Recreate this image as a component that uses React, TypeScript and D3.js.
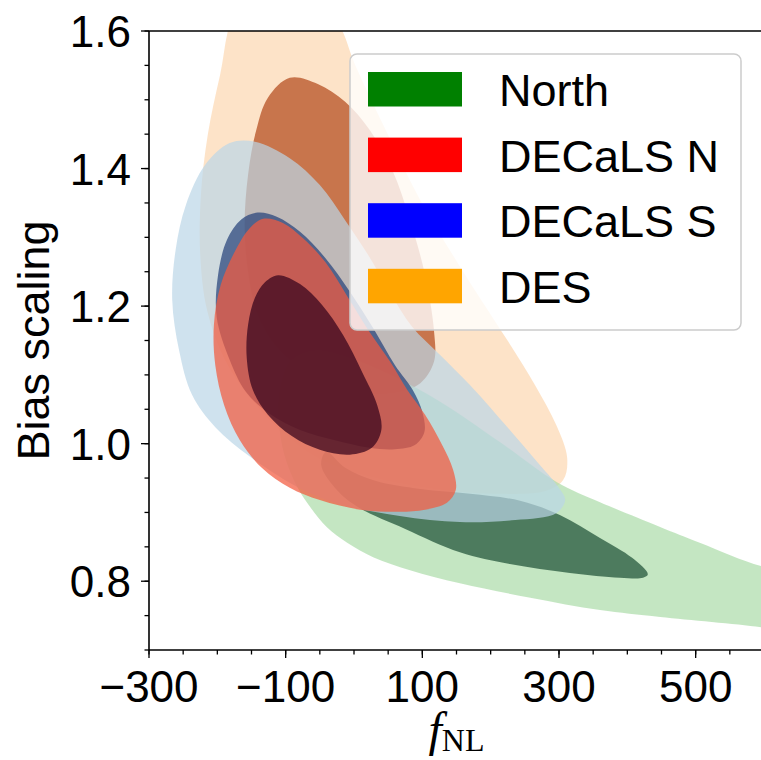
import React from 'react';
import * as d3 from 'd3';

// axis ticks
const xTicks = [-300, -100, 100, 300, 500];
const yTicks = [0.8, 1.0, 1.2, 1.4, 1.6];

// contour outlines, [fNL, bias]
const desOuter: [number, number][] = [
  [-173, 1.63], [-105, 1.69], [-26, 1.616], [2, 1.55], [45, 1.459], [97, 1.354],
  [163, 1.245], [224, 1.151], [265, 1.085], [296, 1.027], [312, 0.979], [306, 0.947],
  [280, 0.931], [214, 0.927], [126, 0.933], [31, 0.95], [-47, 0.976], [-101, 1.013],
  [-149, 1.063], [-189, 1.122], [-215, 1.194], [-225, 1.274], [-224, 1.362],
  [-214, 1.449], [-196, 1.536],
];
const desInner: [number, number][] = [
  [-94, 1.532], [-53, 1.523], [-13, 1.497], [23, 1.456], [56, 1.398], [82, 1.325],
  [104, 1.245], [117, 1.165], [117, 1.119], [97, 1.088], [60, 1.074], [12, 1.074],
  [-38, 1.088], [-82, 1.113], [-117, 1.146], [-142, 1.191], [-155, 1.25],
  [-160, 1.318], [-155, 1.391], [-143, 1.456], [-126, 1.503],
];
const northOuter: [number, number][] = [
  [653, 0.813], [653, 0.723], [596, 0.733], [448, 0.748], [360, 0.758], [258, 0.776],
  [155, 0.797], [82, 0.816], [28, 0.835], [-10, 0.856], [-40, 0.879], [-62, 0.905],
  [-83, 0.937], [-102, 0.984], [-110, 1.034], [-107, 1.085], [-91, 1.122], [-57, 1.136],
  [-6, 1.125], [60, 1.097], [126, 1.061], [214, 1.002], [297, 0.944], [360, 0.915],
  [448, 0.879], [506, 0.856], [596, 0.822],
];
const northInner: [number, number][] = [
  [430, 0.81], [407, 0.834], [360, 0.863], [302, 0.896], [243, 0.917], [170, 0.927],
  [97, 0.934], [31, 0.946], [-13, 0.965], [-41, 0.988], [-48, 0.969], [-28, 0.936],
  [4, 0.909], [75, 0.876], [155, 0.842], [228, 0.825], [316, 0.812], [389, 0.805],
  [423, 0.805],
];
const decalsSOuter: [number, number][] = [
  [-266, 1.209], [-261, 1.282], [-246, 1.347], [-218, 1.405], [-182, 1.437],
  [-145, 1.439], [-94, 1.415], [-50, 1.376], [-13, 1.325], [21, 1.274], [53, 1.219],
  [85, 1.17], [126, 1.129], [170, 1.085], [228, 1.02], [272, 0.969], [299, 0.937],
  [309, 0.918], [296, 0.899], [236, 0.889], [155, 0.886], [67, 0.895], [-21, 0.912],
  [-83, 0.937], [-152, 0.981], [-203, 1.024], [-237, 1.071], [-256, 1.136],
];
const decalsSInner: [number, number][] = [
  [-201, 1.184], [-199, 1.245], [-186, 1.296], [-165, 1.326], [-141, 1.336],
  [-113, 1.33], [-79, 1.308], [-42, 1.27], [-6, 1.221], [28, 1.168], [60, 1.114],
  [86, 1.078], [100, 1.046], [103, 1.017], [89, 0.998], [60, 0.992], [23, 0.994],
  [-28, 1.005], [-79, 1.02], [-123, 1.043], [-158, 1.075], [-182, 1.122],
];
const decalsNOuter: [number, number][] = [
  [-133, 1.327], [-104, 1.321], [-75, 1.299], [-42, 1.264], [-9, 1.213], [23, 1.162],
  [53, 1.119], [78, 1.078], [104, 1.042], [129, 0.998], [145, 0.962], [149, 0.933],
  [136, 0.914], [104, 0.904], [67, 0.901], [9, 0.904], [-50, 0.918], [-94, 0.936],
  [-135, 0.965], [-167, 1.005], [-190, 1.056], [-203, 1.114], [-205, 1.173],
  [-195, 1.231], [-173, 1.282], [-152, 1.314],
];
const decalsNInner: [number, number][] = [
  [-111, 1.245], [-79, 1.232], [-47, 1.202], [-16, 1.158], [12, 1.104], [34, 1.056],
  [40, 1.02], [26, 0.994], [-6, 0.984], [-50, 0.991], [-91, 1.011], [-126, 1.042],
  [-148, 1.078], [-157, 1.125], [-155, 1.173], [-145, 1.212], [-130, 1.235],
];

const legendNames = ['North', 'DECaLS N', 'DECaLS S', 'DES'];
const legendColors = ['green', 'red', 'blue', 'orange'];

// drawing order: DES, North, DECaLS S, DECaLS N
const layers = [
  { pts: desOuter, fill: '#fcd7b0', op: 0.7 },
  { pts: desInner, fill: '#b14617', op: 0.7 },
  { pts: northOuter, fill: '#abdba8', op: 0.7 },
  { pts: northInner, fill: '#1b4d33', op: 0.7 },
  { pts: decalsSOuter, fill: '#bbd5e7', op: 0.7 },
  { pts: decalsSInner, fill: '#223f78', op: 0.7 },
  { pts: decalsNOuter, fill: '#f35a3f', op: 0.72 },
  { pts: decalsNInner, fill: '#310019', op: 0.7 },
];

const X0 = 149, X1 = 764, Y0 = 31, Y1 = 650;
const sans = '"Liberation Sans", Arial, Helvetica, sans-serif';
const serif = '"Liberation Serif", "DejaVu Serif", serif';

export default function App() {
  const x = d3.scaleLinear().domain([-300, 600]).range([X0, X1]);
  const y = d3.scaleLinear().domain([0.7, 1.6]).range([Y1, Y0]);
  const line = d3.line<[number, number]>()
    .x(d => x(d[0]))
    .y(d => y(d[1]))
    .curve(d3.curveCatmullRomClosed.alpha(0.5));

  const xMinor = d3.range(-300, 601, 50);
  const yMinor = d3.range(0, 19).map(i => 0.7 + i * 0.05);
  const fmtX = (v: number) => (v < 0 ? `\u2212${Math.abs(v)}` : `${v}`);

  return (
    <svg width={761} height={760} style={{ display: 'block', position: 'absolute', left: 0, top: 0 }}>
      <rect width={761} height={760} fill="white" />
      <defs>
        <clipPath id="plot">
          <rect x={X0} y={Y0} width={X1 - X0} height={Y1 - Y0} />
        </clipPath>
      </defs>
      <g clipPath="url(#plot)">
        {layers.map((l, i) => (
          <path key={i} d={line(l.pts) || ''} fill={l.fill} fillOpacity={l.op} stroke="none" />
        ))}
      </g>

      {/* spines */}
      <g stroke="black" strokeWidth={1.6} fill="none">
        <line x1={X0} x2={X0} y1={Y0} y2={Y1} />
        <line x1={X0} x2={X1} y1={Y1} y2={Y1} />
        <line x1={X0} x2={X1} y1={Y0} y2={Y0} />
        <line x1={X1} x2={X1} y1={Y0} y2={Y1} />
      </g>

      {/* ticks */}
      <g stroke="black" strokeWidth={1.3}>
        {xMinor.map(v => (
          <line key={'xm' + v} x1={x(v)} x2={x(v)} y1={Y1} y2={Y1 + 4.5} />
        ))}
        {xTicks.map(v => (
          <line key={'xM' + v} x1={x(v)} x2={x(v)} y1={Y1} y2={Y1 + 8} />
        ))}
        {yMinor.map(v => (
          <line key={'ym' + v} x1={X0} x2={X0 - 4.5} y1={y(v)} y2={y(v)} />
        ))}
        {yTicks.map(v => (
          <line key={'yM' + v} x1={X0} x2={X0 - 8} y1={y(v)} y2={y(v)} />
        ))}
      </g>
      <g fontFamily={sans} fontSize={44} fill="black">
        {xTicks.map(v => (
          <text key={'xl' + v} x={x(v)} y={702} textAnchor="middle">{fmtX(v)}</text>
        ))}
        {yTicks.map(v => (
          <text key={'yl' + v} x={131} y={y(v) + 16} textAnchor="end">{v.toFixed(1)}</text>
        ))}
      </g>

      {/* axis labels */}
      <text transform={`translate(49, ${(Y0 + Y1) / 2}) rotate(-90)`} textAnchor="middle"
        fontFamily={sans} fontSize={45}>Bias scaling</text>
      <text x={(X0 + X1) / 2} y={746} textAnchor="middle" fontFamily={serif}>
        <tspan fontStyle="italic" fontSize={48}>f</tspan>
        <tspan fontSize={32} dy={5}>NL</tspan>
      </text>

      {/* legend */}
      <rect x={350} y={54} width={391} height={276} rx={7} fill="white" fillOpacity={0.8}
        stroke="#cccccc" strokeWidth={1.5} />
      {legendNames.map((n, i) => (
        <g key={n}>
          <rect x={368} y={72 + i * 65.6} width={94} height={34.5} fill={legendColors[i]} />
          <text x={499} y={106 + i * 65.6} fontFamily={sans} fontSize={45}>{n}</text>
        </g>
      ))}
    </svg>
  );
}
